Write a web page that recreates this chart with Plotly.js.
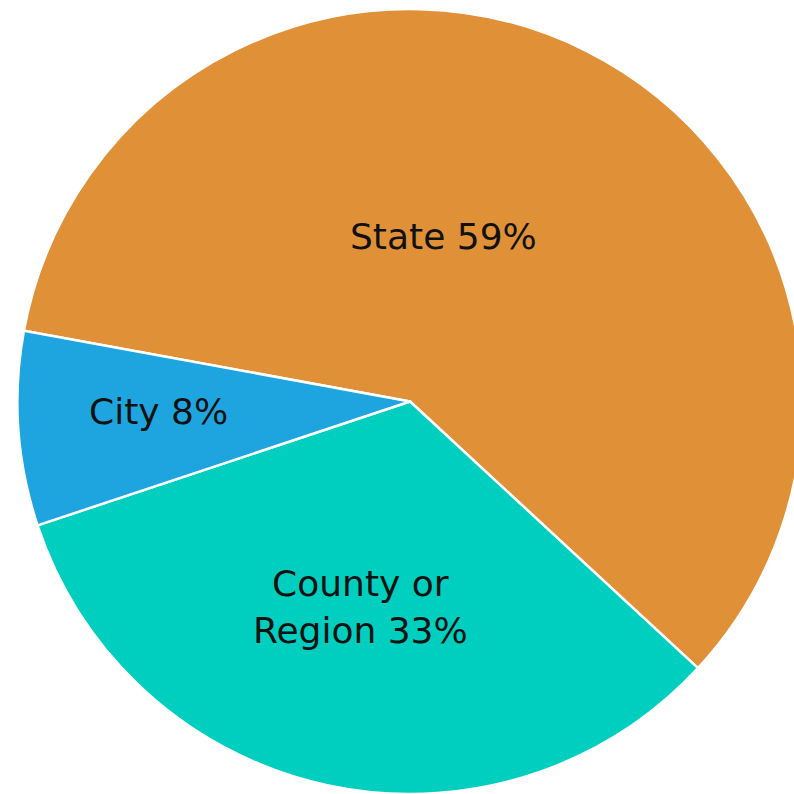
<!DOCTYPE html>
<html>
<head>
<meta charset="utf-8">
<script src="https://cdn.plot.ly/plotly-3.0.1.min.js"></script>
<style>
html,body{margin:0;padding:0;overflow:hidden;background:#fff;width:794px;height:794px;}
#chart{width:830px;height:794px;}
</style>
</head>
<body>
<div id="chart"></div>
<script>
const labels = ["State", "County or<br>Region", "City"];
const values = [59, 33, 8];
const colors = ["#E09138", "#00CEBE", "#1EA5E0"];
const labelPos = [[0.5343, 0.7025], [0.4343, 0.2355], [0.1904, 0.4820]];

const W = 830, H = 794;
const cx = 410, cy = 402, r = 393;

const trace = {
  type: "pie",
  labels: labels,
  values: values,
  sort: false,
  direction: "clockwise",
  rotation: -79.6,
  marker: {colors: colors, line: {color: "#ffffff", width: 2.5}},
  textinfo: "none",
  hoverinfo: "label+percent",
  showlegend: false,
  domain: {x: [(cx - r) / W, (cx + r) / W], y: [0, (H - cy + r) / H]}
};

const annotations = labels.map((l, i) => ({
  text: l + " " + values[i] + "%",
  x: labelPos[i][0], y: labelPos[i][1],
  xref: "paper", yref: "paper",
  xanchor: "center", yanchor: "middle",
  showarrow: false,
  font: {family: "'DejaVu Sans', sans-serif", size: 36, color: "#111111"}
}));

Plotly.newPlot("chart", [trace], {
  width: W, height: H,
  margin: {l: 0, r: 0, t: 0, b: 0},
  paper_bgcolor: "#ffffff",
  annotations: annotations
}, {displayModeBar: false, staticPlot: true});
</script>
</body>
</html>
